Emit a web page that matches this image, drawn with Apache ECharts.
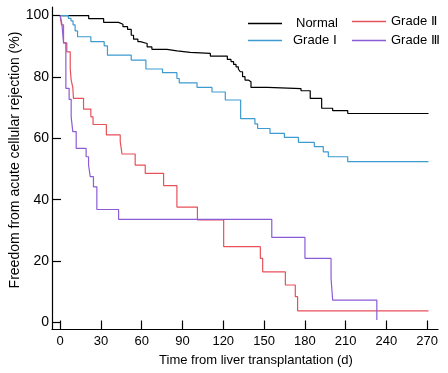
<!DOCTYPE html>
<html><head><meta charset="utf-8">
<script src="https://cdn.jsdelivr.net/npm/echarts@6/dist/echarts.min.js"></script>
<style>html,body{margin:0;padding:0;background:#fff}#c{width:448px;height:373px}</style>
</head><body><div id="c"></div>
<script>
const seriesNames = ['Normal', 'Grade Ⅰ', 'Grade Ⅱ', 'Grade Ⅲ'];

const normalDays = [0, 21, 32, 43, 46.2, 49.6, 52.3, 54, 57.2, 59, 64, 67.5, 78.6, 86, 95.7, 110.5, 123, 125.7, 127.6, 129.4, 131.1, 132.5, 134.2, 136, 138.4, 140.4, 152.7, 177.2, 184, 192.4, 200.5, 211.6, 271];
const normalPct  = [100, 99, 97.8, 97.2, 96.4, 95.5, 93.6, 92.3, 91.5, 90.9, 89.8, 89.0, 88.5, 88, 87.7, 86.8, 85.7, 85, 84.1, 83.3, 82.6, 81.7, 80.1, 79, 78.4, 76.6, 76.2, 75.5, 73, 69.8, 69, 68.1, 68.1];

const grade1Days = [0, 6, 8, 9.5, 11, 12.8, 22.6, 32.4, 34.8, 52.3, 63.1, 75.3, 85.9, 87.6, 100.7, 111.7, 121.5, 132.8, 143.3, 145.3, 154.4, 165, 175.3, 187, 193.6, 197.3, 211.6, 271];
const grade1Pct  = [100, 99.1, 98.3, 97, 95, 93.1, 91.5, 90.1, 87.1, 85.5, 82.6, 81.4, 79.5, 78.1, 76.6, 75.1, 72.5, 66.4, 64.7, 63.2, 61.6, 60.3, 58.7, 57.3, 55.6, 54, 52.4, 52.4];

const grade2Days = [0, 1, 2.5, 4.9, 7.4, 8.1, 9.3, 9.8, 17.2, 22.6, 24.2, 34, 44.2, 45.5, 55.2, 62.6, 76.1, 85.9, 101, 120.3, 147.3, 149, 165.7, 173, 174.7, 271];
const grade2Pct  = [100, 97, 91.1, 88.2, 82.8, 79, 76.6, 73, 69.5, 67, 64.5, 61.1, 58.9, 54.9, 51.3, 48.6, 44.6, 37.6, 33.4, 24.7, 20.9, 16.5, 12.2, 8.4, 3.8, 3.8];

const grade3Days = [0, 1.2, 2.5, 4.2, 6.6, 8.1, 9.3, 11.8, 19.1, 20.9, 22.1, 24.5, 27, 43, 155.7, 180.1, 199.3, 200.5, 233];
const grade3Pct  = [100, 97.5, 91.1, 76.3, 72.7, 67, 62.2, 56.7, 54, 51.3, 47.5, 44.2, 36.8, 33.6, 27.7, 20.9, 14.4, 7.3, 0.8];

const xTicks = [0, 30, 60, 90, 120, 150, 180, 210, 240, 270];
const yTicks = [0, 20, 40, 60, 80, 100];
const xTitle = 'Time from liver transplantation (d)';
const yTitle = 'Freedom from acute cellular rejection (%)';

const colors = ['#000000', '#3d9bd0', '#e8505a', '#8b5cd6'];
const FONT = '"Liberation Sans", Arial, sans-serif';

const zip = (d, p) => d.map((v, i) => [v, p[i]]);
const allData = [zip(normalDays, normalPct), zip(grade1Days, grade1Pct), zip(grade2Days, grade2Pct), zip(grade3Days, grade3Pct)];

const chart = echarts.init(document.getElementById('c'), null, {renderer: 'canvas'});
const legendCommon = {orient: 'vertical', icon: 'rect', itemWidth: 34, itemHeight: 1.3, padding: 0};
chart.setOption({
  animation: false,
  backgroundColor: '#fff',
  color: colors,
  grid: {left: 52, right: 10, top: 7, bottom: 43.5, containLabel: false},
  legend: [
    Object.assign({}, legendCommon, {
      left: 248, top: 17, itemGap: 4,
      data: [
        {name: seriesNames[0], textStyle: {padding: [0, 0, 0, 9]}},
        {name: seriesNames[1], textStyle: {padding: [0, 0, 0, 6]}}
      ],
      textStyle: {fontSize: 13, fontFamily: FONT, color: '#000', padding: [0, 0, 0, 6]}
    }),
    Object.assign({}, legendCommon, {
      left: 352, top: 15, itemGap: 6,
      data: [seriesNames[2], seriesNames[3]],
      textStyle: {fontSize: 13, fontFamily: FONT, color: '#000'}
    })
  ],
  xAxis: {
    type: 'value', min: -6, max: 278,
    axisLine: {onZero: false, lineStyle: {color: '#000', width: 1.2}},
    axisTick: {inside: true, length: 9, customValues: xTicks, lineStyle: {color: '#000', width: 1.2}},
    axisLabel: {customValues: xTicks, color: '#000', fontSize: 13, fontFamily: FONT, margin: 5},
    splitLine: {show: false}
  },
  yAxis: {
    type: 'value', min: -2.3, max: 102.8,
    axisLine: {show: true, onZero: false, lineStyle: {color: '#000', width: 1.2}},
    axisTick: {show: true, inside: true, length: 9, customValues: yTicks, lineStyle: {color: '#000', width: 1.2}},
    axisLabel: {customValues: yTicks, color: '#000', fontSize: 14, fontFamily: FONT, margin: 3},
    splitLine: {show: false}
  },
  graphic: [
    {type: 'text', x: 256, y: 360, style: {text: xTitle, fontSize: 13, fontFamily: FONT, fill: '#000', align: 'center', verticalAlign: 'middle'}},
    {type: 'text', x: 15, y: 160, rotation: Math.PI / 2, style: {text: yTitle, fontSize: 14, fontFamily: FONT, fill: '#000', align: 'center', verticalAlign: 'middle'}}
  ],
  series: seriesNames.map((n, i) => ({
    name: n, type: 'line', step: 'end', symbol: 'none', data: allData[i],
    lineStyle: {width: 1.2, color: colors[i]}, itemStyle: {color: colors[i]}
  }))
});
</script></body></html>
